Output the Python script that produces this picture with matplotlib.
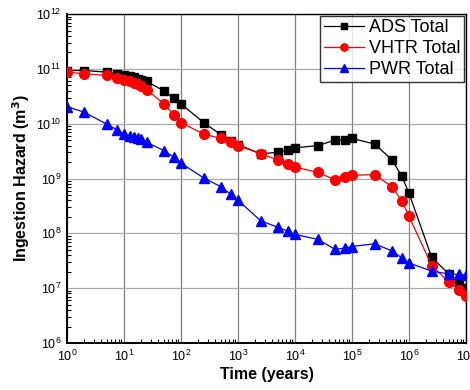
import numpy as np
import matplotlib
matplotlib.use("Agg")
import matplotlib.pyplot as plt
from matplotlib.ticker import LogLocator, NullFormatter

plt.rcParams['font.family'] = ['Liberation Sans', 'DejaVu Sans']

# time points (years)
years = [1, 2, 5, 7.5, 10, 12.5, 15, 17.5, 20, 25, 50, 75, 100, 250, 500, 750,
         1e3, 2.5e3, 5e3, 7.5e3, 1e4, 2.5e4, 5e4, 7.5e4, 1e5, 2.5e5, 5e5, 7.5e5,
         1e6, 2.5e6, 5e6, 7.5e6, 1e7]

# log10 of ingestion hazard (m^3)
ads_log = [10.97, 10.97, 10.94, 10.91, 10.88, 10.87, 10.85, 10.82, 10.80, 10.77,
           10.60, 10.46, 10.36, 10.02, 9.80, 9.69, 9.62, 9.45, 9.48, 9.52, 9.56,
           9.60, 9.70, 9.71, 9.73, 9.63, 9.34, 9.04, 8.73, 7.56, 7.26, 7.11, 7.01]
vhtr_log = [10.94, 10.91, 10.88, 10.84, 10.80, 10.78, 10.75, 10.73, 10.69, 10.62,
            10.36, 10.16, 10.02, 9.81, 9.73, 9.66, 9.60, 9.45, 9.34, 9.27, 9.21,
            9.11, 8.98, 9.03, 9.06, 9.07, 8.85, 8.59, 8.31, 7.41, 7.11, 6.97, 6.86]
pwr_log = [10.31, 10.21, 9.99, 9.89, 9.81, 9.78, 9.76, 9.74, 9.72, 9.66,
           9.51, 9.39, 9.28, 9.01, 8.85, 8.71, 8.60, 8.23, 8.11, 8.04, 7.98,
           7.89, 7.71, 7.73, 7.76, 7.81, 7.68, 7.55, 7.46, 7.31, 7.26, 7.25, 7.24]

ads = 10 ** np.array(ads_log)
vhtr = 10 ** np.array(vhtr_log)
pwr = 10 ** np.array(pwr_log)

fig = plt.figure(figsize=(4.7, 3.9), dpi=100)
ax = fig.add_axes([0.1426, 0.1205, 0.849, 0.8435])

ax.plot(years, ads, color='black', marker='s', markersize=6, linewidth=0.9,
        label='ADS Total', zorder=3)
ax.plot(years, vhtr, color='red', marker='o', markersize=7, linewidth=0.9,
        label='VHTR Total', zorder=4)
ax.plot(years, pwr, color='blue', marker='^', markersize=7.5, linewidth=0.9,
        label='PWR Total', zorder=5)

ax.set_xscale('log')
ax.set_yscale('log')
ax.set_xlim(1, 1e7)
ax.set_ylim(1e6, 1e12)

ax.xaxis.set_major_locator(LogLocator(base=10, numticks=10))
ax.yaxis.set_major_locator(LogLocator(base=10, numticks=10))
ax.xaxis.set_minor_locator(LogLocator(base=10, subs=np.arange(2, 10), numticks=20))
ax.yaxis.set_minor_locator(LogLocator(base=10, subs=np.arange(2, 10), numticks=20))
ax.xaxis.set_minor_formatter(NullFormatter())
ax.yaxis.set_minor_formatter(NullFormatter())

ax.grid(True, which='major', axis='x', color='#808080', linewidth=0.9)
ax.grid(True, which='major', axis='y', color='#a8a8a8', linewidth=0.9)
ax.set_axisbelow(True)

ax.tick_params(which='both', direction='in', top=False, right=False)
ax.tick_params(which='major', length=0, labelsize=9, pad=4)
ax.tick_params(which='minor', length=3, width=0.8)

for side in ['left', 'bottom']:
    ax.spines[side].set_linewidth(1.4)
for side in ['top', 'right']:
    ax.spines[side].set_linewidth(1.0)

ax.set_xlabel('Time (years)', fontsize=11.5, fontweight='bold', labelpad=2)
ax.set_ylabel('Ingestion Hazard (m$^\\mathbf{3}$)', fontsize=11.5, fontweight='bold',
              labelpad=3)

leg = ax.legend(loc='upper right', fontsize=13, frameon=True, fancybox=False,
                edgecolor='black', borderpad=0.2, labelspacing=0.22,
                handlelength=2.2, handletextpad=0.3, borderaxespad=0.1,
                markerscale=0.75)
leg.get_frame().set_linewidth(1.0)

fig.savefig('out.png', dpi=100)
